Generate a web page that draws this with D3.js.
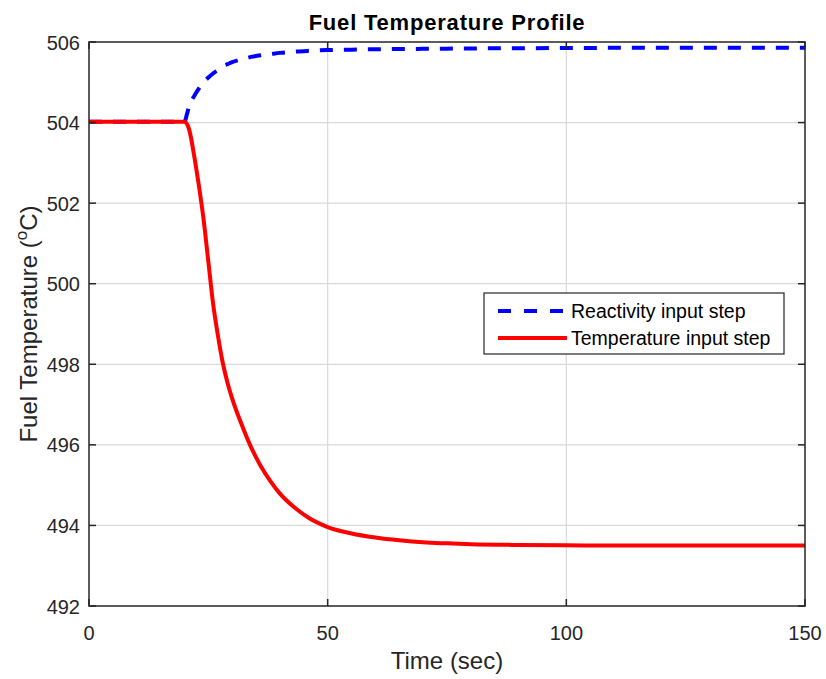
<!DOCTYPE html>
<html lang="en">
  <head>
    <meta charset="UTF-8" />
    <title>Fuel Temperature Profile</title>
    <style>
      body { margin: 0; background: #fff; }
      text { font-family: "Liberation Sans", Arial, sans-serif; fill: #262626; }
    </style>
  </head>
  <body>
    <svg width="826" height="679" xmlns="http://www.w3.org/2000/svg"></svg>
    <script src="https://cdn.jsdelivr.net/npm/d3@7/dist/d3.min.js"></script>
    <script>
      // time in seconds
      const time = [0, 5, 10, 15, 19, 20, 20.5, 21, 22, 23, 24, 25, 26, 27, 28, 29, 30, 32, 34, 36, 38, 40, 43, 46, 50, 55, 60, 65, 70, 75, 80, 90, 100, 110, 120, 135, 150];
      // reactivity input step (blue dashed)
      const reactivity = [504.02, 504.02, 504.02, 504.02, 504.02, 504.02, 504.2, 504.42, 504.65, 504.84, 505.0, 505.12, 505.22, 505.31, 505.4, 505.45, 505.5, 505.57, 505.63, 505.67, 505.7, 505.73, 505.76, 505.78, 505.8, 505.81, 505.82, 505.825, 505.83, 505.835, 505.84, 505.845, 505.85, 505.855, 505.855, 505.86, 505.86];
      // temperature input step (red solid)
      const temperature = [504.02, 504.02, 504.02, 504.02, 504.02, 504.02, 503.97, 503.82, 503.2, 502.45, 501.6, 500.55, 499.5, 498.72, 498.05, 497.55, 497.15, 496.5, 495.93, 495.47, 495.1, 494.79, 494.45, 494.19, 493.96, 493.8, 493.7, 493.63, 493.58, 493.555, 493.535, 493.515, 493.505, 493.5, 493.5, 493.5, 493.5];

      const xTicks = [0, 50, 100, 150];
      const yTicks = [492, 494, 496, 498, 500, 502, 504, 506];
      const legendLabels = ["Reactivity input step", "Temperature input step"];

      const svg = d3.select("svg");
      const mLeft = 89, mRight = 805, mTop = 42, mBottom = 606;

      const x = d3.scaleLinear().domain([0, 150]).range([mLeft, mRight]);
      const y = d3.scaleLinear().domain([492, 506]).range([mBottom, mTop]);

      // grid
      const grid = svg.append("g");
      grid.selectAll(".gx").data(xTicks.slice(1, -1)).enter().append("line")
        .attr("x1", d => x(d)).attr("x2", d => x(d))
        .attr("y1", mTop).attr("y2", mBottom)
        .style("stroke", "#dadada").style("stroke-width", 1.2);
      grid.selectAll(".gy").data(yTicks.slice(1, -1)).enter().append("line")
        .attr("x1", mLeft).attr("x2", mRight)
        .attr("y1", d => y(d)).attr("y2", d => y(d))
        .style("stroke", "#dadada").style("stroke-width", 1.2);

      // curves
      const line = vals => d3.line()
        .x((d, i) => x(time[i]))
        .y(d => y(d))
        .curve(d3.curveMonotoneX)(vals);

      svg.append("path")
        .attr("d", line(reactivity))
        .style("fill", "none").style("stroke", "#0000ff")
        .style("stroke-width", 4).style("stroke-dasharray", "13,11");

      svg.append("path")
        .attr("d", line(temperature))
        .style("fill", "none").style("stroke", "#ff0000")
        .style("stroke-width", 4);

      // axes, MATLAB style with inward ticks on all sides
      const tick = 7;
      const ax = svg.append("g").style("stroke", "#262626").style("stroke-width", 1.5);
      xTicks.forEach(t => {
        ax.append("line").attr("x1", x(t)).attr("x2", x(t)).attr("y1", mBottom).attr("y2", mBottom - tick);
        ax.append("line").attr("x1", x(t)).attr("x2", x(t)).attr("y1", mTop).attr("y2", mTop + tick);
      });
      yTicks.forEach(t => {
        ax.append("line").attr("x1", mLeft).attr("x2", mLeft + tick).attr("y1", y(t)).attr("y2", y(t));
        ax.append("line").attr("x1", mRight).attr("x2", mRight - tick).attr("y1", y(t)).attr("y2", y(t));
      });
      ax.append("rect")
        .attr("x", mLeft).attr("y", mTop)
        .attr("width", mRight - mLeft).attr("height", mBottom - mTop)
        .style("fill", "none");

      // tick labels
      svg.selectAll(".xl").data(xTicks).enter().append("text")
        .attr("x", d => x(d)).attr("y", mBottom + 34)
        .attr("text-anchor", "middle").style("font-size", "20px")
        .text(d => d);
      svg.selectAll(".yl").data(yTicks).enter().append("text")
        .attr("x", mLeft - 9).attr("y", d => y(d) + 7.5)
        .attr("text-anchor", "end").style("font-size", "20px")
        .text(d => d);

      // labels
      svg.append("text")
        .attr("x", (mLeft + mRight) / 2).attr("y", 30)
        .attr("text-anchor", "middle")
        .style("font-size", "22px").style("font-weight", "bold").style("fill", "#000")
        .style("letter-spacing", "0.8px")
        .text("Fuel Temperature Profile");

      svg.append("text")
        .attr("x", (mLeft + mRight) / 2).attr("y", 669)
        .attr("text-anchor", "middle").style("font-size", "24px")
        .text("Time (sec)");

      const yl = svg.append("text")
        .attr("transform", `translate(37, ${(mTop + mBottom) / 2}) rotate(-90)`)
        .attr("text-anchor", "middle").style("font-size", "24px");
      yl.append("tspan").text("Fuel Temperature (");
      yl.append("tspan").attr("dy", -10).style("font-size", "17px").text("o");
      yl.append("tspan").attr("dy", 10).text("C)");

      // legend
      const lg = svg.append("g").attr("transform", "translate(484, 293)");
      lg.append("rect").attr("width", 300).attr("height", 61)
        .style("fill", "#fff").style("stroke", "#262626").style("stroke-width", 1.2);
      const styles = [
        { color: "#0000ff", dash: "13,13" },
        { color: "#ff0000", dash: null }
      ];
      legendLabels.forEach((lab, i) => {
        const yy = 18 + i * 27;
        lg.append("line")
          .attr("x1", 14).attr("x2", 83).attr("y1", yy).attr("y2", yy)
          .style("stroke", styles[i].color).style("stroke-width", 4)
          .style("stroke-dasharray", styles[i].dash);
        lg.append("text")
          .attr("x", 87).attr("y", yy + 7)
          .style("font-size", "19.5px").style("fill", "#000")
          .text(lab);
      });
    </script>
  </body>
</html>
